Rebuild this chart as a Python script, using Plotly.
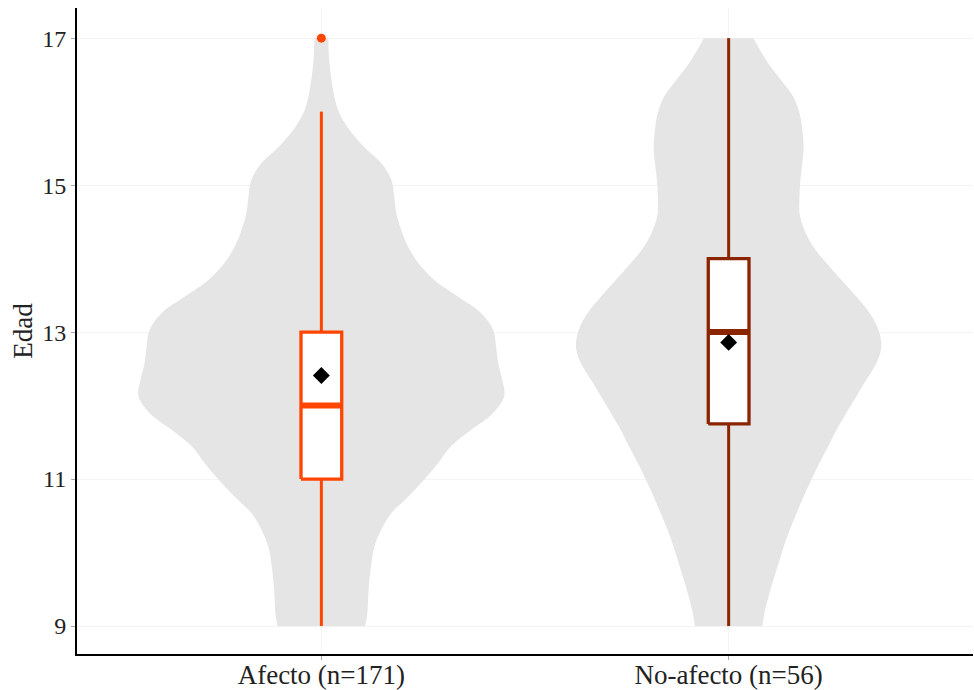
import plotly.graph_objects as go

# ---------------- data ----------------
categories = ["Afecto (n=171)", "No-afecto (n=56)"]
y_ticks = [9, 11, 13, 15, 17]

# violin profiles: age levels and half-width of density (x units)
afecto_levels = [17.0, 16.65, 16.20, 15.98, 15.75, 15.52, 15.30, 15.07, 14.84, 14.62,
                 14.39, 14.16, 13.94, 13.71, 13.48, 13.26, 13.03, 12.80, 12.58, 12.35,
                 12.13, 11.90, 11.67, 11.45, 11.22, 10.99, 10.76, 10.54, 10.31, 10.08,
                 9.86, 9.63, 9.40, 9.18, 9.0]
afecto_width = [0.017, 0.020, 0.032, 0.044, 0.069, 0.105, 0.147, 0.172, 0.179, 0.184,
                0.196, 0.213, 0.238, 0.277, 0.336, 0.392, 0.422, 0.429, 0.434, 0.444,
                0.449, 0.422, 0.368, 0.319, 0.287, 0.252, 0.213, 0.172, 0.147, 0.130,
                0.123, 0.118, 0.115, 0.113, 0.108]

noafecto_levels = [17.0, 16.87, 16.65, 16.42, 16.20, 15.98, 15.75, 15.52, 15.30, 15.07,
                   14.84, 14.62, 14.39, 14.16, 13.94, 13.71, 13.48, 13.26, 13.03, 12.80,
                   12.58, 12.35, 12.13, 11.90, 11.67, 11.45, 11.22, 10.99, 10.76, 10.54,
                   10.31, 10.08, 9.86, 9.63, 9.40, 9.18, 9.0]
noafecto_width = [0.061, 0.074, 0.098, 0.130, 0.159, 0.174, 0.181, 0.184, 0.181, 0.176,
                  0.174, 0.174, 0.186, 0.208, 0.240, 0.277, 0.314, 0.346, 0.368, 0.375,
                  0.363, 0.338, 0.314, 0.289, 0.265, 0.245, 0.223, 0.203, 0.184, 0.167,
                  0.150, 0.135, 0.123, 0.110, 0.098, 0.088, 0.083]

# box statistics
box_q1 = [11.0, 11.75]
box_median = [12.0, 13.0]
box_q3 = [13.0, 14.0]
box_low = [9.0, 9.0]
box_high = [16.0, 17.0]
means = [12.41, 12.86]
outliers_afecto = [17.0]

colors = ["#FF4500", "#8B2500"]
violin_fill = "#E5E5E5"
box_half = 0.05

fig = go.Figure()

# violins: left edge trace + right edge trace filled between them
profiles = [(afecto_levels, afecto_width), (noafecto_levels, noafecto_width)]
for i, (lv, wd) in enumerate(profiles):
    fig.add_trace(go.Scatter(x=[i - w for w in wd], y=lv, mode="lines",
                             line=dict(color=violin_fill, width=0, shape="spline", smoothing=1),
                             hoverinfo="skip", showlegend=False))
    fig.add_trace(go.Scatter(x=[i + w for w in wd], y=lv, mode="lines", fill="tonextx",
                             fillcolor=violin_fill,
                             line=dict(color=violin_fill, width=0, shape="spline", smoothing=1),
                             hoverinfo="skip", showlegend=False))

# boxplots drawn with scatter so they sit above the violins
for i in range(2):
    c = colors[i]
    # whiskers
    fig.add_trace(go.Scatter(x=[i, i], y=[box_low[i], box_q1[i]], mode="lines",
                             line=dict(color=c, width=3), hoverinfo="skip", showlegend=False))
    fig.add_trace(go.Scatter(x=[i, i], y=[box_q3[i], box_high[i]], mode="lines",
                             line=dict(color=c, width=3), hoverinfo="skip", showlegend=False))
    # box
    fig.add_trace(go.Scatter(x=[i - box_half, i + box_half, i + box_half, i - box_half, i - box_half],
                             y=[box_q1[i], box_q1[i], box_q3[i], box_q3[i], box_q1[i]],
                             mode="lines", fill="toself", fillcolor="white",
                             line=dict(color=c, width=3.3), hoverinfo="skip", showlegend=False))
    # median
    fig.add_trace(go.Scatter(x=[i - box_half, i + box_half], y=[box_median[i], box_median[i]],
                             mode="lines", line=dict(color=c, width=6),
                             showlegend=False, hoverinfo="skip"))

fig.add_trace(go.Scatter(x=[0] * len(outliers_afecto), y=outliers_afecto, mode="markers",
                         marker=dict(color=colors[0], size=9), showlegend=False))

fig.add_trace(go.Scatter(x=[0, 1], y=means, mode="markers",
                         marker=dict(symbol="diamond", color="black", size=13),
                         showlegend=False))

font_family = "Liberation Serif"
fig.update_layout(
    width=974, height=690,
    margin=dict(l=77, r=1, t=8, b=36),
    plot_bgcolor="white", paper_bgcolor="white",
    font=dict(family=font_family, size=24, color="#222222"),
    showlegend=False,
)
fig.update_xaxes(range=[-0.6, 1.6], tickvals=[0, 1], ticktext=categories,
                 showline=True, linecolor="black", linewidth=2, automargin=False,
                 ticks="outside", ticklen=4, tickcolor="#AAAAAA", tickwidth=1,
                 ticklabelstandoff=-8,
                 showgrid=True, gridcolor="#F4F4F4", gridwidth=1, zeroline=False,
                 tickfont=dict(size=27, color="#222222"))
fig.update_yaxes(range=[8.62, 17.41], tickvals=y_ticks, ticktext=[str(t) for t in y_ticks],
                 title=dict(text="Edad", font=dict(size=27, color="#222222"), standoff=2),
                 showline=True, linecolor="black", linewidth=2, automargin=False,
                 ticks="outside", ticklen=4, tickcolor="#AAAAAA", tickwidth=1,
                 showgrid=True, gridcolor="#F4F4F4", gridwidth=1, zeroline=False,
                 tickfont=dict(size=24, color="#222222"))

post = ("document.body.style.margin='0';document.body.style.overflow='hidden';"
        "var gd=document.getElementById('{plot_id}');"
        "Plotly.relayout(gd,{width:974,height:690});")
fig.write_html("out.html", config={"responsive": False, "displayModeBar": False},
               post_script=post)
